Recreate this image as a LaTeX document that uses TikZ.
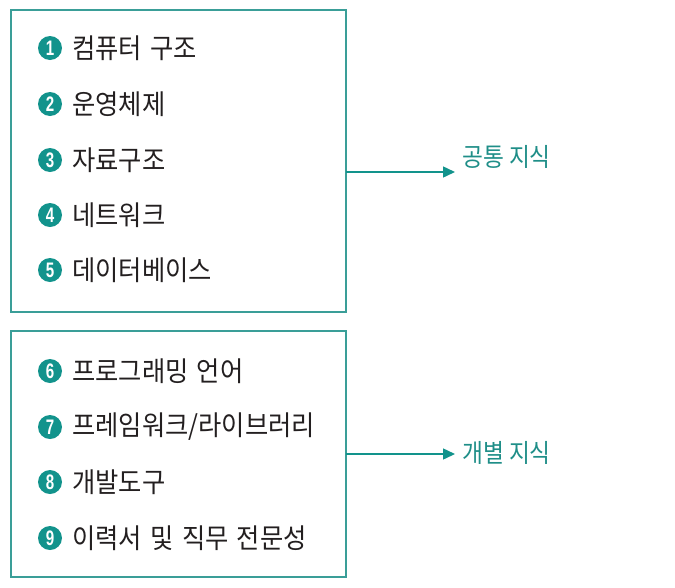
\documentclass[tikz,border=0pt]{standalone}
\usepackage{fontspec}
\setmainfont{Noto Sans CJK KR}
\newfontfamily\numfont{Liberation Sans}
\usetikzlibrary{arrows.meta}
\definecolor{tealbox}{HTML}{3A9E98}
\definecolor{tealfill}{HTML}{12938C}
\definecolor{tealtext}{HTML}{1F8E88}
\definecolor{itemtext}{HTML}{231F20}
\tikzset{
  groupbox/.style={draw=tealbox, line width=1.5pt, fill=none},
  numdot/.style={circle, fill=tealfill, inner sep=0pt, minimum size=24pt, text=white, font=\numfont\bfseries\fontsize{21}{21}\selectfont},
  itemlabel/.style={anchor=west, inner sep=0pt, text=itemtext, font=\fontsize{27.5}{27.5}\selectfont},
  grouplabel/.style={anchor=west, inner sep=0pt, text=tealtext, font=\fontsize{25.5}{25.5}\selectfont},
  linkarrow/.style={draw=tealfill, line width=1.5pt, -{Triangle[length=12pt,width=11pt]}}
}
\begin{document}
\begin{tikzpicture}[x=1pt,y=-1pt]
\useasboundingbox (0,0) rectangle (675,587);
\draw[groupbox] (11,10) rectangle (346,312);
\draw[groupbox] (11,331) rectangle (346,577);
\coordinate (b1) at (346,172);
\coordinate (b2) at (346,454);
\coordinate (t1) at (455,172);
\coordinate (t2) at (455,454);
\foreach \n/\y/\t in {1/48/{컴퓨터 구조}, 2/104/{운영체제}, 3/160/{자료구조}, 4/215/{네트워크}, 5/270/{데이터베이스}, 6/371/{프로그래밍 언어}, 7/427/{프레임워크/라이브러리}, 8/482/{개발도구}, 9/538/{이력서 및 직무 전문성}}{
  \node[numdot] (d\n) at (50,\y) {\scalebox{0.72}[1]{\n}};
  \node[itemlabel] (i\n) at (72,\y) {\scalebox{0.92}[1]{\spaceskip=0.33em\relax\t}};
}
\draw[linkarrow] (b1) -- (t1);
\draw[linkarrow] (b2) -- (t2);
\node[grouplabel] (g1) at (462,157) {\scalebox{0.89}[1]{공통 지식}};
\node[grouplabel] (g2) at (462,453) {\scalebox{0.89}[1]{개별 지식}};
\end{tikzpicture}
\end{document}
